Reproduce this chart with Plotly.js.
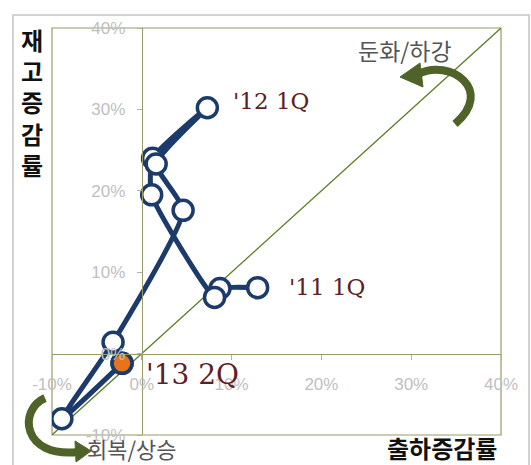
<!DOCTYPE html>
<html>
<head>
<meta charset="utf-8">
<script src="https://cdn.plot.ly/plotly-3.0.1.min.js"></script>
<style>html,body{margin:0;padding:0;background:#fff;}#chart{width:531px;height:465px;}</style>
</head>
<body>
<div id="chart"></div>
<script>
// 출하증감률 (x, %) and 재고증감률 (y, %) by quarter, '11 1Q -> '13 2Q
const shipmentGrowth = [12.9, 8.7, 8.1, 1.1, 1.2, 7.3, 1.6, 4.6, -3.2, -8.9, -2.2];
const inventoryGrowth = [8.1, 8.0, 6.9, 19.5, 24.0, 30.2, 23.3, 17.6, 1.4, -8.0, -1.2];
const pointLabels = ["'11 1Q", "'12 1Q", "'13 2Q"];
const labelIndex = [0, 5, 10];
const diagX = [-10, 40];
const diagY = [-10, 40];
const tickVals = [-10, 0, 10, 20, 30, 40];

// pixel -> paper helpers for decorations (plot area 52..501 x 28..435)
const L = 52, T = 28, W = 449, H = 407;
const px = v => +((v - L) / W).toFixed(4);
const py = v => +((T + H - v) / H).toFixed(4);

const navy = '#1c3a6a';
const olive = '#9a9a66';
const arrowGreen = '#4f6228';
const maroon = '#5e2024';

const traces = [
  {x: diagX, y: diagY, mode: 'lines', line: {color: '#5f7f2a', width: 1.3}, hoverinfo: 'skip', showlegend: false},
  {x: shipmentGrowth, y: inventoryGrowth, mode: 'lines+markers',
   line: {color: navy, width: 5, shape: 'spline', smoothing: 0.5},
   marker: {symbol: 'circle', size: 20, color: '#ffffff', line: {color: navy, width: 3.5}},
   showlegend: false},
  {x: [shipmentGrowth[shipmentGrowth.length - 1]], y: [inventoryGrowth[inventoryGrowth.length - 1]], mode: 'markers',
   marker: {symbol: 'circle', size: 20, color: '#e8731c', line: {color: navy, width: 3.5}}, showlegend: false}
];

const labelOffsets = [[29, 1], [24, 7], [22, -11]]; // pixel offsets to label start
const labelSizes = [23, 23, 28];
const annotations = labelIndex.map((idx, i) => ({
  x: shipmentGrowth[idx], y: inventoryGrowth[idx], xref: 'x', yref: 'y',
  text: pointLabels[i], showarrow: false, xanchor: 'left', yanchor: 'middle',
  xshift: labelOffsets[i][0], yshift: labelOffsets[i][1],
  font: {family: 'DejaVu Serif', size: labelSizes[i], color: maroon}
}));
const centered = {xref: 'paper', yref: 'paper', showarrow: false, xanchor: 'center', yanchor: 'middle'};
annotations.push(
  Object.assign({}, centered, {x: px(405), y: py(50), text: '둔화/하강',
   font: {family: 'Noto Sans CJK KR', size: 23, color: '#555555'}}),
  Object.assign({}, centered, {x: px(132), y: py(448), text: '회복/상승',
   font: {family: 'Noto Sans CJK KR', size: 22, color: '#555555'}}),
  Object.assign({}, centered, {x: px(32), y: py(102), text: '재<br>고<br>증<br>감<br>률',
   font: {family: 'Noto Sans CJK KR', size: 24, color: '#111111', weight: 'bold'}}),
  Object.assign({}, centered, {x: px(442), y: py(447), text: '출하증감률',
   font: {family: 'Noto Sans CJK KR', size: 24, color: '#111111', weight: 'bold'}})
);

const shapes = [
  {type: 'rect', xref: 'paper', yref: 'paper', x0: px(13), y0: py(480), x1: px(529), y1: py(15),
   line: {color: '#d2d2d2', width: 2}, layer: 'below'},
  {type: 'rect', xref: 'paper', yref: 'paper', x0: 0, y0: 0, x1: 1, y1: 1,
   line: {color: olive, width: 1.2}, layer: 'below'},
  {type: 'path', xref: 'paper', yref: 'paper',
   path: `M ${px(418)} ${py(74)} C ${px(450)} ${py(58)}, ${px(495)} ${py(90)}, ${px(455)} ${py(124)}`,
   line: {color: arrowGreen, width: 8}},
  {type: 'path', xref: 'paper', yref: 'paper',
   path: `M ${px(400)} ${py(77)} L ${px(420)} ${py(63)} L ${px(423)} ${py(87)} Z`,
   fillcolor: arrowGreen, line: {color: arrowGreen, width: 1}},
  {type: 'path', xref: 'paper', yref: 'paper',
   path: `M ${px(45)} ${py(398)} C ${px(18)} ${py(410)}, ${px(22)} ${py(458)}, ${px(78)} ${py(452)}`,
   line: {color: arrowGreen, width: 8}},
  {type: 'path', xref: 'paper', yref: 'paper',
   path: `M ${px(91)} ${py(451)} L ${px(75)} ${py(441)} L ${px(76)} ${py(462)} Z`,
   fillcolor: arrowGreen, line: {color: arrowGreen, width: 1}}
];

const axisCommon = {
  range: [-10, 40], tickvals: tickVals, ticktext: tickVals.map(v => v + '%'),
  anchor: 'free', position: 0.2, showline: true, linecolor: olive, linewidth: 1.2,
  ticks: 'outside', ticklen: 5, tickcolor: '#b0b0b0', tickwidth: 1,
  showgrid: false, zeroline: false, fixedrange: true,
  tickfont: {family: 'Liberation Sans', size: 17, color: '#c0c0c0'}
};

const layout = {
  width: 531, height: 465,
  margin: {l: L, r: 531 - L - W, t: T, b: 465 - T - H, pad: 0},
  paper_bgcolor: '#ffffff', plot_bgcolor: '#ffffff',
  showlegend: false,
  xaxis: Object.assign({}, axisCommon, {ticklabelstandoff: 10}),
  yaxis: Object.assign({}, axisCommon, {ticklabelstandoff: 8}),
  annotations: annotations,
  shapes: shapes
};

Plotly.newPlot('chart', traces, layout, {displayModeBar: false, staticPlot: true});
</script>
</body>
</html>
